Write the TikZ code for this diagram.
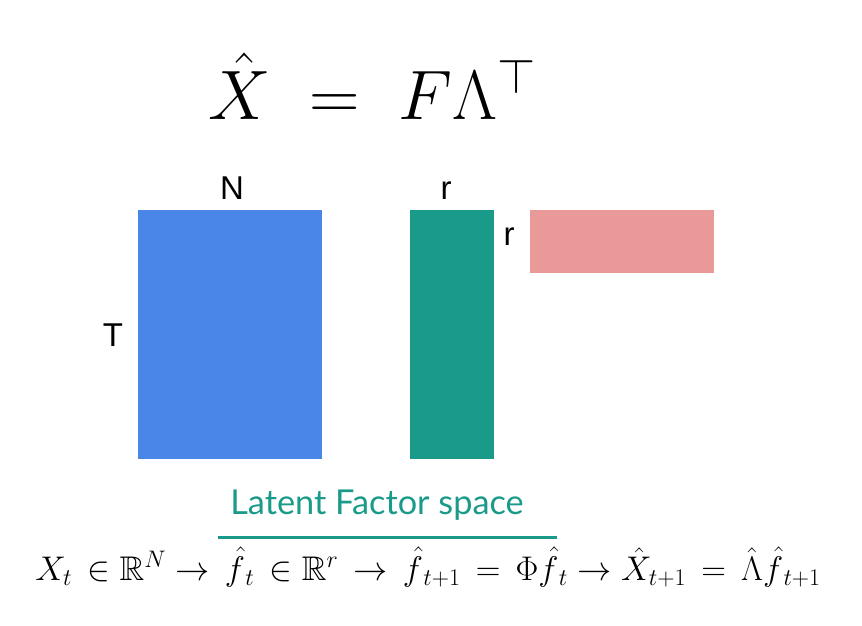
\RequirePackage{fix-cm}
\documentclass[tikz,border=0pt]{standalone}
\usepackage{amsmath}
\usepackage{amssymb}
\usepackage{fontspec}
\newfontfamily\labelfont{Liberation Sans}
\newfontfamily\latofont{Lato}
\usetikzlibrary{positioning}

\definecolor{matblue}{HTML}{4A86E8}
\definecolor{matteal}{HTML}{1A9A88}
\definecolor{matpink}{HTML}{EA9999}

\newcommand{\titlesize}{\fontsize{70}{76}\selectfont}
\newcommand{\dimsize}{\fontsize{33}{36}\selectfont}
\newcommand{\latentsize}{\fontsize{34.3}{40}\selectfont}
\newcommand{\chainsize}{\fontsize{34.2}{40}\selectfont}

\begin{document}
\begin{tikzpicture}[x=1pt,y=-1pt,
		dimlabel/.style={inner sep=0pt,anchor=base,font=\labelfont\dimsize},
		eqlabel/.style={inner sep=0pt,anchor=base}]
			\useasboundingbox (0,0) rectangle (862,626);
			% the three matrices
			\fill[matblue] (138,210) rectangle (322,459);
			\fill[matteal] (410,210) rectangle (494,459);
			\fill[matpink] (530,210) rectangle (714,273);
			% dimensions
			\node[dimlabel] (dimN) at (232,199) {N};
			\node[dimlabel] (dimrF) at (446,199) {r};
			\node[dimlabel] (dimrL) at (509,245) {r};
			\node[dimlabel] (dimT) at (113,346) {T};
			% title
			\node[eqlabel,font=\titlesize] (title) at (372,119) {$\hat{X}\mathrel{\;=\;}F\Lambda^{\top}$};
			% latent space
			\node[eqlabel,text=matteal,font=\latofont\latentsize] (latent) at (377,514) {Latent Factor space};
			\draw[matteal,line width=3pt] (218,537) -- (557,537);
			\node[eqlabel,font=\chainsize] (chain) at (428,580) {$X_t\,\in\mathbb{R}^N\to\,\hat{f}_{\,t}\,\in\mathbb{R}^r\,\to\,\hat{f}_{\,t+1}\,=\,\Phi\hat{f}_{\,t}\to\hat{X}_{t+1}\,=\,\hat{\Lambda}\hat{f}_{\,t+1}$};
		\end{tikzpicture}
\end{document}
